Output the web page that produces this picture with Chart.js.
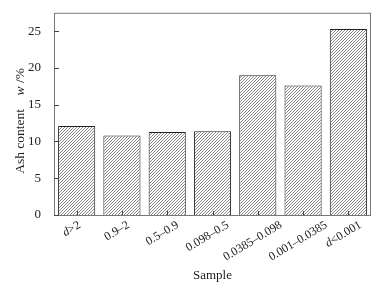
<!DOCTYPE html>
<html>
<head>
<meta charset="utf-8">
<script src="https://cdn.jsdelivr.net/npm/chart.js@4.4.1/dist/chart.umd.min.js"></script>
<style>
  html, body { margin: 0; padding: 0; background: #fff; }
  #wrap { width: 379px; height: 286px; }
</style>
</head>
<body>
<div id="wrap"><canvas id="chart"></canvas></div>
<script>
// Ash content by particle size class
const samples = ['d>2', '0.9–2', '0.5–0.9', '0.098–0.5', '0.0385–0.098', '0.001–0.0385', 'd<0.001'];
const ashContent = [12.1, 10.8, 11.3, 11.4, 19.0, 17.6, 25.3];
const yTicks = [0, 5, 10, 15, 20, 25];

const FONT = "'Liberation Serif', 'DejaVu Serif', serif";
const TEXT = '#222';

function makeHatch() {
    const c = document.createElement('canvas');
    c.width = 3; c.height = 3;
    const g = c.getContext('2d');
    g.fillStyle = '#ffffff';
    g.fillRect(0, 0, 3, 3);
    g.strokeStyle = '#7a7a7a';
    g.lineWidth = 0.9;
    g.beginPath();
    g.moveTo(-1, 4); g.lineTo(4, -1);
    g.moveTo(-1, 1); g.lineTo(1, -1);
    g.moveTo(2, 4); g.lineTo(4, 2);
    g.stroke();
    return g.createPattern(c, 'repeat');
}

// split "d>2" into italic d + rest
function parts(label) {
    if (label.startsWith('d')) return [['d', true], [label.slice(1), false]];
    return [[label, false]];
}

function drawParts(ctx, segs, size) {
    const fonts = segs.map(s => (s[1] ? 'italic ' : '') + size + 'px ' + FONT);
    let widths = segs.map((s, i) => { ctx.font = fonts[i]; return ctx.measureText(s[0]).width; });
    const total = widths.reduce((a, b) => a + b, 0);
    let x = -total / 2;
    segs.forEach((s, i) => {
        ctx.font = fonts[i];
        ctx.fillText(s[0], x, 0);
        x += widths[i];
    });
    return total;
}

// frame, inward ticks, rotated x labels, y title
const framePlugin = {
    id: 'frame',
    afterDraw(chart) {
        const ctx = chart.ctx;
        const a = chart.chartArea;
        const x = chart.scales.x, y = chart.scales.y;
        ctx.save();
        ctx.strokeStyle = '#777';
        ctx.lineWidth = 1;
        ctx.strokeRect(a.left + 0.5, a.top + 0.5, a.right - a.left - 1, a.bottom - a.top);
        ctx.strokeStyle = '#444';
        ctx.beginPath();
        yTicks.forEach(v => {
            const py = Math.round(y.getPixelForValue(v)) + 0.5;
            ctx.moveTo(a.left, py); ctx.lineTo(a.left + 5, py);
        });
        samples.forEach((s, i) => {
            const px = Math.round(x.getPixelForValue(i)) + 0.5;
            ctx.moveTo(px, a.bottom); ctx.lineTo(px, a.bottom - 4);
        });
        ctx.stroke();

        // x tick labels, rotated about their centre
        const ang = 31 * Math.PI / 180;
        const size = 12;
        ctx.fillStyle = TEXT;
        ctx.textAlign = 'left';
        ctx.textBaseline = 'middle';
        samples.forEach((s, i) => {
            const segs = parts(s);
            let w = 0;
            segs.forEach(p => { ctx.font = (p[1] ? 'italic ' : '') + size + 'px ' + FONT; w += ctx.measureText(p[0]).width; });
            const half = (w * Math.sin(ang) + size * Math.cos(ang)) / 2;
            const cx = x.getPixelForValue(i) - 5;
            const cy = a.bottom + 4 + half;
            ctx.save();
            ctx.translate(cx, cy);
            ctx.rotate(-ang);
            drawParts(ctx, segs, size);
            ctx.restore();
        });

        // y axis title with italic w
        ctx.save();
        ctx.translate(20, (a.top + a.bottom) / 2 + 7);
        ctx.rotate(-Math.PI / 2);
        drawParts(ctx, [['Ash content    ', false], ['w', true], [' /%', false]], 13.5);
        ctx.restore();
        ctx.restore();
    }
};

new Chart(document.getElementById('chart'), {
    type: 'bar',
    data: {
        labels: samples,
        datasets: [{
            data: ashContent,
            backgroundColor: makeHatch(),
            borderColor: '#222',
            borderWidth: 1,
            barPercentage: 0.82,
            categoryPercentage: 1
        }]
    },
    options: {
        responsive: true,
        maintainAspectRatio: false,
        animation: false,
        layout: { padding: { top: 0, right: 8, left: 13, bottom: 3 } },
        plugins: { legend: { display: false }, tooltip: { enabled: false } },
        scales: {
            x: {
                grid: { display: false },
                border: { display: false },
                afterFit(scale) { scale.height = 68; },
                ticks: { display: false },
                title: {
                    display: true, text: 'Sample', color: TEXT,
                    font: { family: FONT, size: 13 }, padding: 0
                }
            },
            y: {
                min: 0, max: 27.5,
                grid: { display: false },
                border: { display: false },
                afterFit(scale) { scale.width = 41; },
                afterBuildTicks(scale) {
                    scale.ticks = yTicks.map(v => ({ value: v }));
                },
                ticks: {
                    color: TEXT,
                    font: { family: FONT, size: 13 },
                    padding: 5
                }
            }
        }
    },
    plugins: [framePlugin]
});
</script>
</body>
</html>
